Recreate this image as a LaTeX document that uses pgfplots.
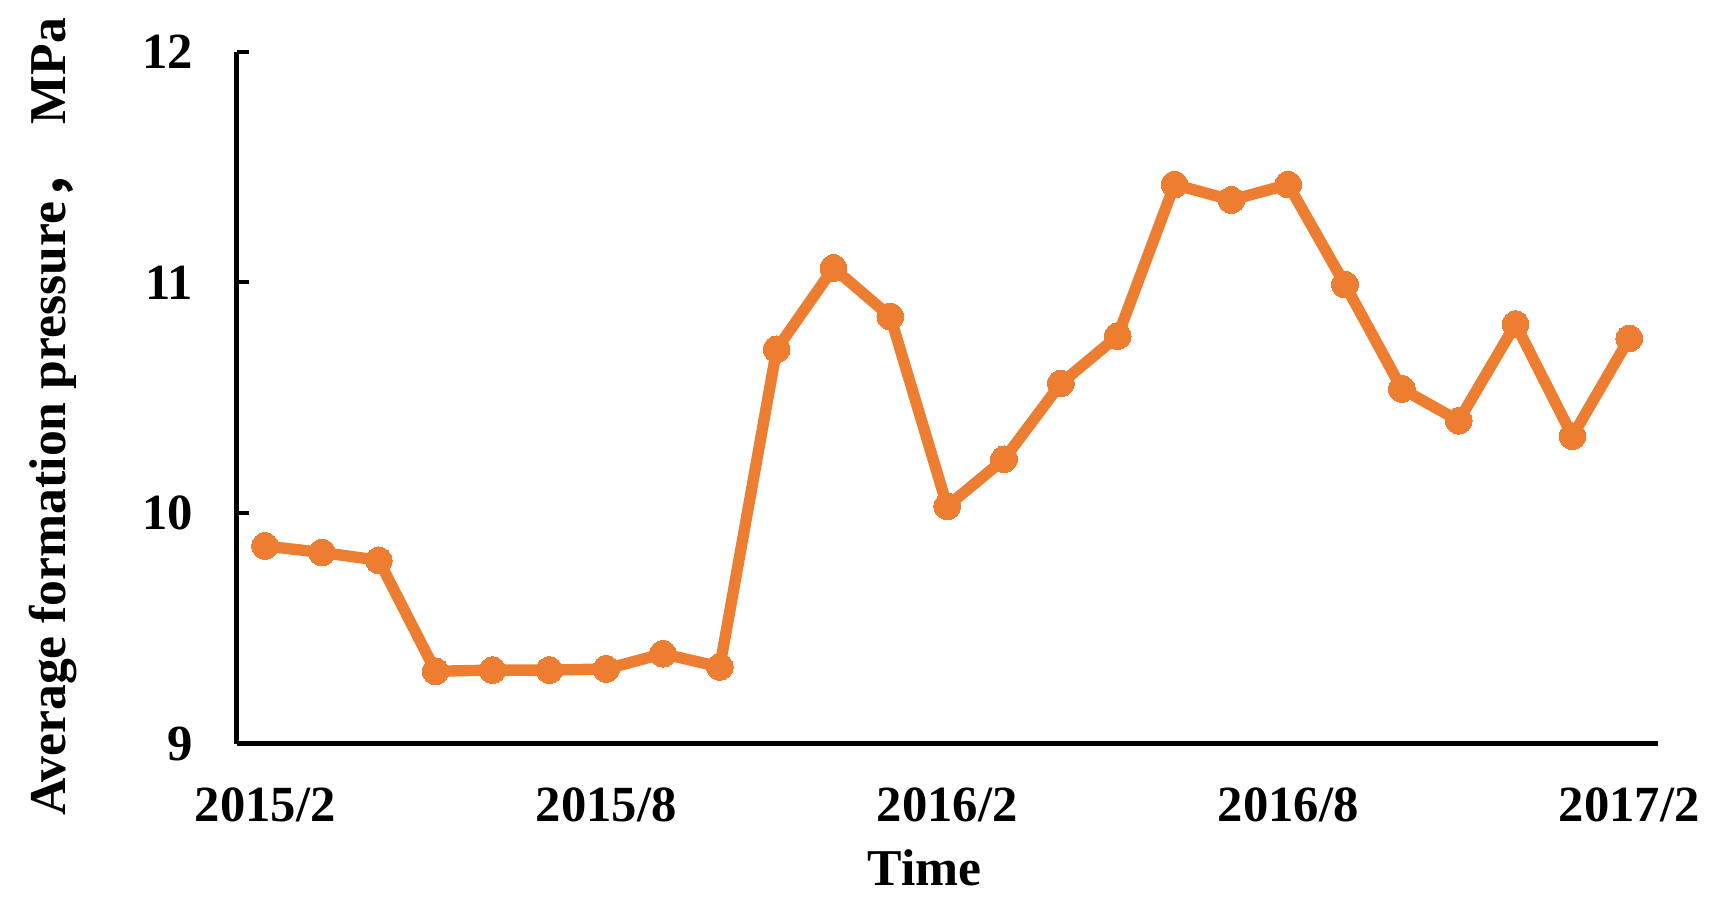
\documentclass[border=0pt]{standalone}
\usepackage{pgfplots}
\pgfplotsset{compat=1.18}
\usepackage{fontspec}
\setmainfont{Liberation Serif}
\newfontfamily\cjk{Noto Sans CJK SC}
\definecolor{lineorange}{HTML}{ED7D31}
\begin{document}
\begin{tikzpicture}
\begin{axis}[
  scale only axis,
  width=426.3pt, height=207.6pt,
  xmin=0, xmax=25, ymin=9, ymax=12,
  axis lines=left,
  axis line style={line width=1.5pt, -},
  xtick={0.5,6.5,12.5,18.5,24.5},
  xticklabels={2015/2,2015/8,2016/2,2016/8,2017/2},
  x tick style={draw=none},
  extra x ticks={0,6,12,18,24},
  extra x tick labels={},
  extra x tick style={tick align=inside, major tick length=3.6pt, tick style={line width=1.2pt, black, draw=black}},
  ytick={9,10,11,12},
  yticklabels={9,10,11,12},
  y tick style={line width=1.2pt, black},
  tick align=inside,
  major tick length=3.6pt,
  ticklabel style={font=\bfseries\fontsize{15.2}{18}\selectfont},
  xticklabel style={yshift=-9.7pt},
  yticklabel style={xshift=-9.5pt},
  xlabel={Time},
  xlabel style={at={(axis description cs:0.484,0)}, anchor=north, yshift=-28.4pt, font=\bfseries\fontsize{15.5}{18}\selectfont},
  ylabel={Average formation pressure{\cjk ，}\ \ MPa},
  ylabel style={at={(axis description cs:-0.1201,0.472)}, anchor=base, font=\bfseries\fontsize{15.5}{18}\selectfont},
  clip=false,
]
\addplot[color=lineorange, line width=3.4pt, mark=*, mark size=4pt, mark options={fill=lineorange, draw=lineorange, line width=0pt}] coordinates {
(0.5,9.857) (1.5,9.829) (2.5,9.795) (3.5,9.314) (4.5,9.319) (5.5,9.319)
(6.5,9.324) (7.5,9.39) (8.5,9.333) (9.5,10.71) (10.5,11.062) (11.5,10.852)
(12.5,10.029) (13.5,10.233) (14.5,10.562) (15.5,10.767) (16.5,11.424)
(17.5,11.357) (18.5,11.424) (19.5,10.99) (20.5,10.538) (21.5,10.4)
(22.5,10.819) (23.5,10.333) (24.5,10.757)
};
\end{axis}
\path (-71pt,-50.8pt) rectangle (445.6pt,223.1pt);
\end{tikzpicture}
\end{document}
